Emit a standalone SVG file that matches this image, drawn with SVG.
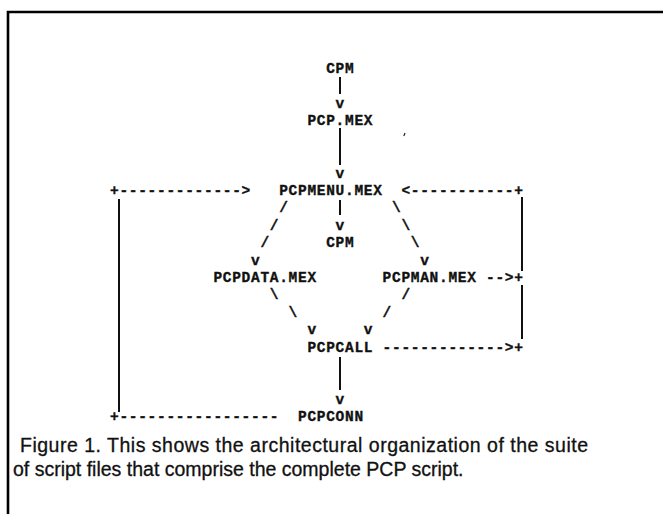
<svg xmlns="http://www.w3.org/2000/svg" width="663" height="514" viewBox="0 0 663 514">
<style>
.a{font-family:"Liberation Mono","DejaVu Sans Mono",monospace;font-weight:bold;font-size:14.5px;letter-spacing:0.7px;fill:#111;stroke:#111;stroke-width:0.35}
.ln{stroke:#111;stroke-width:2;fill:none}
.frame{stroke:#000;stroke-width:2.6;fill:none}
.cap{font-family:"Liberation Sans",Arial,sans-serif;font-size:19.5px;fill:#111;stroke:#111;stroke-width:0.3}
</style>
<rect width="663" height="514" fill="#fff"/>
<path class="frame" d="M8,514 V12 H663"/>
<g id="connectors">
<line class="ln" x1="340" y1="77" x2="340" y2="94"/>
<text class="a" x="335.6" y="108">v</text>
<line class="ln" x1="340" y1="128" x2="340" y2="165"/>
<text class="a" x="335.6" y="177.6">v</text>
<text class="a" x="110" y="195">+-------------&gt;</text>
<text class="a" x="401.4" y="195">&lt;-----------+</text>
<text class="a" x="279.2" y="212.4">/</text>
<line class="ln" x1="340" y1="200" x2="340" y2="215"/>
<text class="a" x="392" y="212.4">\</text>
<text class="a" x="269.8" y="229.8">/</text>
<text class="a" x="335.6" y="229.8">v</text>
<text class="a" x="401.4" y="229.8">\</text>
<text class="a" x="260.4" y="247.2">/</text>
<text class="a" x="410.8" y="247.2">\</text>
<text class="a" x="251" y="264.6">v</text>
<text class="a" x="420.2" y="264.6">v</text>
<text class="a" x="486" y="282">--&gt;+</text>
<text class="a" x="269.8" y="299.4">\</text>
<text class="a" x="401.4" y="299.4">/</text>
<text class="a" x="288.6" y="316.8">\</text>
<text class="a" x="382.6" y="316.8">/</text>
<text class="a" x="307.4" y="334.2">v</text>
<text class="a" x="363.8" y="334.2">v</text>
<text class="a" x="382.6" y="351.6">-------------&gt;+</text>
<line class="ln" x1="340" y1="357" x2="340" y2="390"/>
<text class="a" x="335.6" y="403.8">v</text>
<text class="a" x="110" y="421.2">+-----------------</text>
<line class="ln" x1="119" y1="199" x2="119" y2="412"/>
<line class="ln" x1="522" y1="197" x2="522" y2="271"/>
<line class="ln" x1="522" y1="285" x2="522" y2="339"/>
</g>
<g id="node-cpm-top"><text class="a" x="326.2" y="73.2">CPM</text></g>
<g id="node-pcp-mex"><text class="a" x="307.4" y="125.4">PCP.MEX</text></g>
<g id="node-pcpmenu-mex"><text class="a" x="279.2" y="195">PCPMENU.MEX</text></g>
<g id="node-cpm-mid"><text class="a" x="326.2" y="247.2">CPM</text></g>
<g id="node-pcpdata-mex"><text class="a" x="213.4" y="282">PCPDATA.MEX</text></g>
<g id="node-pcpman-mex"><text class="a" x="382.6" y="282">PCPMAN.MEX</text></g>
<g id="node-pcpcall"><text class="a" x="307.4" y="351.6">PCPCALL</text></g>
<g id="node-pcpconn"><text class="a" x="298" y="421.2">PCPCONN</text></g>
<path d="M405,133 l-1.2,3" stroke="#222" stroke-width="1.2"/>
<g id="caption">
<text class="cap" x="20" y="452" textLength="568">Figure 1. This shows the architectural organization of the suite</text>
<text class="cap" x="13" y="476">of script files that comprise the complete PCP script.</text>
</g>
</svg>
